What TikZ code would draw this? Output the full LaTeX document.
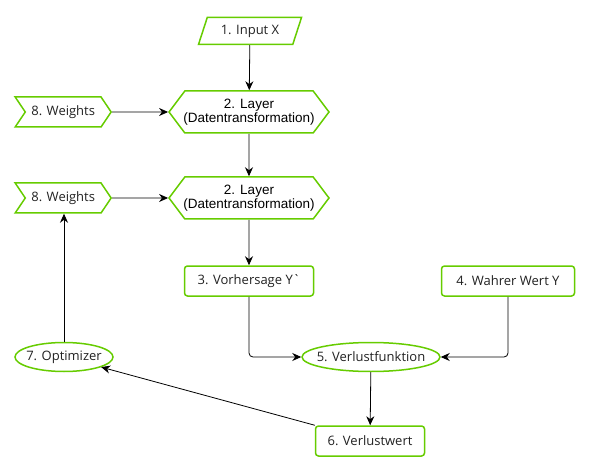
\documentclass[tikz,border=0pt]{standalone}
\usepackage{fontspec}
\setmainfont{Open Sans}
\newfontfamily\layerfont{Liberation Sans}
\usetikzlibrary{positioning}
\usetikzlibrary{arrows.meta}
\usetikzlibrary{shapes.symbols}
\usetikzlibrary{shapes.geometric}
\definecolor{flowgreen}{RGB}{102,204,0}
\definecolor{flowtext}{RGB}{34,34,34}
\tikzset{
  greenline/.style= {
    draw = flowgreen,
    line width = 1.5pt,
    fill = white,
    text = flowtext,
    font = \fontsize{13}{15}\selectfont
  },
  inputbox/.style= {
    greenline,
    trapezium,
    trapezium left angle = 72,
    trapezium right angle = 108,
    minimum width = 66pt,
    minimum height = 27pt,
    inner xsep = 1pt
  },
  layerbox/.style= {
    greenline,
    signal,
    signal to = west and east,
    signal pointer angle = 106,
    minimum width = 160pt,
    minimum height = 42pt,
    inner xsep = -6pt,
    inner ysep = 1pt,
    align = center,
    text = black,
    font = \layerfont\fontsize{13.5}{14.5}\selectfont
  },
  weightbox/.style= {
    greenline,
    signal,
    signal from = west,
    signal to = east,
    signal pointer angle = 112,
    minimum width = 96pt,
    minimum height = 30pt,
    inner xsep = 1pt
  },
  valuebox/.style= {
    greenline,
    rectangle,
    rounded corners = 3pt,
    minimum height = 30pt,
    inner xsep = 3pt
  },
  funcbox/.style= {
    greenline,
    ellipse,
    minimum height = 29pt,
    inner xsep = -7pt,
    inner ysep = 0pt
  },
  flow/.style= {
    -{Stealth[length=9pt,width=8pt]},
    line width = 0.8pt
  }
}

\begin{document}
\begin{tikzpicture}[x=1pt,y=-1pt]
  \useasboundingbox (0,0) rectangle (589,473);

  % forward pass
  \node[inputbox] (input) at (250,31) {1. Input X};
  \node[layerbox] (layerA) at (249,112) {2. Layer\\(Datentransformation)};
  \node[layerbox] (layerB) at (249,198) {2. Layer\\(Datentransformation)};
  \node[weightbox,left=56pt of layerA] (weightsA) {8. Weights};
  \node[weightbox,left=56pt of layerB] (weightsB) {8. Weights};
  \node[valuebox,minimum width=129pt] (pred) at (249,281) {3. Vorhersage Y\textasciigrave};
  \node[valuebox,minimum width=133pt] (truth) at (508,281) {4. Wahrer Wert Y};

  % loss and update
  \node[funcbox,minimum width=138pt] (loss) at (371,357) {5. Verlustfunktion};
  \node[valuebox,minimum width=109pt] (lossval) at (370,441) {6. Verlustwert};
  \node[funcbox,minimum width=98pt] (opt) at (64,357) {7. Optimizer};

  \draw[flow] (input) -- (layerA);
  \draw[flow] (weightsA) -- (layerA);
  \draw[flow] (layerA) -- (layerB);
  \draw[flow] (weightsB) -- (layerB);
  \draw[flow] (layerB) -- (pred);
  \draw[flow,rounded corners=4pt] (pred.south) |- (loss.west);
  \draw[flow,rounded corners=4pt] (truth.south) |- (loss.east);
  \draw[flow] (loss) -- (lossval);
  \draw[flow] (lossval.north west) -- (opt);
  \draw[flow] (opt) -- (opt |- weightsB.south);

\end{tikzpicture}
\end{document}
